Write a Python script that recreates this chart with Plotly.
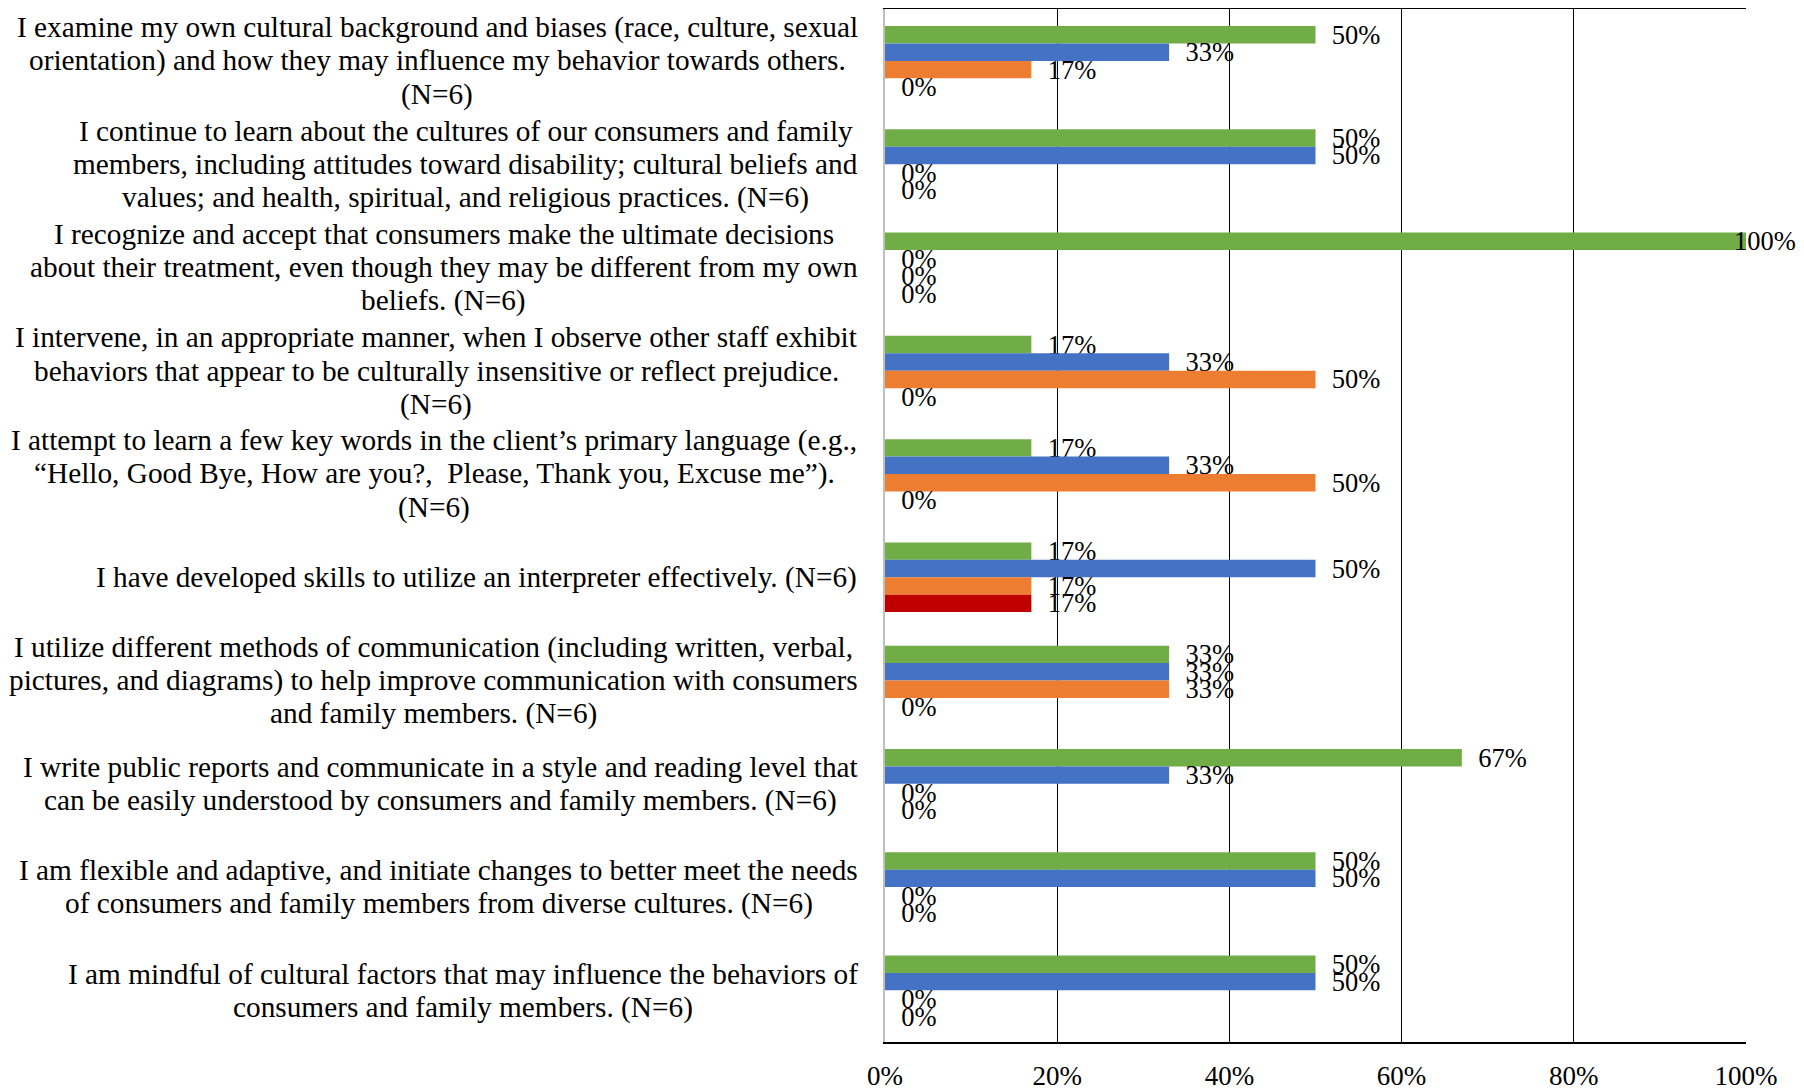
import plotly.graph_objects as go

# ---------------- data ----------------
categories = [
    "I examine my own cultural background and biases (race, culture, sexual<br>orientation) and how they may influence my behavior towards others.<br>(N=6)",
    "I continue to learn about the cultures of our consumers and family<br>members, including attitudes toward disability; cultural beliefs and<br>values; and health, spiritual, and religious practices. (N=6)",
    "I recognize and accept that consumers make the ultimate decisions<br>about their treatment, even though they may be different from my own<br>beliefs. (N=6)",
    "I intervene, in an appropriate manner, when I observe other staff exhibit<br>behaviors that appear to be culturally insensitive or reflect prejudice.<br>(N=6)",
    "I attempt to learn a few key words in the client’s primary language (e.g.,<br>“Hello, Good Bye, How are you?,\u00a0 Please, Thank you, Excuse me”).<br>(N=6)",
    "I have developed skills to utilize an interpreter effectively. (N=6)",
    "I utilize different methods of communication (including written, verbal,<br>pictures, and diagrams) to help improve communication with consumers<br>and family members. (N=6)",
    "I write public reports and communicate in a style and reading level that<br>can be easily understood by consumers and family members. (N=6)",
    "I am flexible and adaptive, and initiate changes to better meet the needs<br>of consumers and family members from diverse cultures. (N=6)",
    "I am mindful of cultural factors that may influence the behaviors of<br>consumers and family members. (N=6)",
]

series_names = ["Series 1", "Series 2", "Series 3", "Series 4"]
green_vals = [50, 50, 100, 17, 17, 17, 33, 67, 50, 50]
blue_vals = [33, 50, 0, 33, 33, 50, 33, 33, 50, 50]
orange_vals = [17, 0, 0, 50, 50, 17, 33, 0, 0, 0]
red_vals = [0, 0, 0, 0, 0, 17, 0, 0, 0, 0]

tick_vals = [0, 20, 40, 60, 80, 100]
tick_labels = ["0%", "20%", "40%", "60%", "80%", "100%"]

# ---------------- style ----------------
FONT = "Liberation Serif, Times New Roman, serif"
FS = 26.5        # data labels
FS_TICK = 27     # tick labels
FS_CAT = 29.3    # category labels
LINE_H = 33.4    # category label line spacing (px)
LABEL_GAP = 27   # gap between category label block and axis (px)
colors = ["#70AD47", "#4472C4", "#ED7D31", "#C00000"]
W, H = 1796, 1084
M_L, M_R, M_T, M_B = 877, 58, 1, 50
BARGAP = 0.325

# Times / Liberation Serif advance widths (1/1000 em) used to centre label lines
_TW = {' ': 250, '\u00a0': 250, '!': 333, '(': 333, ')': 333, ',': 250, '-': 333, '.': 250,
       ':': 278, ';': 278, '=': 564, '?': 444, '%': 833, '’': 333, '“': 444, '”': 444,
       'A': 722, 'B': 667, 'C': 667, 'D': 722, 'E': 611, 'F': 556, 'G': 722, 'H': 722,
       'I': 333, 'J': 389, 'K': 722, 'L': 611, 'M': 889, 'N': 722, 'O': 722, 'P': 556,
       'Q': 722, 'R': 667, 'S': 556, 'T': 611, 'U': 722, 'V': 722, 'W': 944, 'X': 722,
       'Y': 722, 'Z': 611, 'a': 444, 'b': 500, 'c': 444, 'd': 500, 'e': 444, 'f': 333,
       'g': 500, 'h': 500, 'i': 278, 'j': 278, 'k': 500, 'l': 278, 'm': 778, 'n': 500,
       'o': 500, 'p': 500, 'q': 500, 'r': 333, 's': 389, 't': 278, 'u': 500, 'v': 500,
       'w': 722, 'x': 500, 'y': 500, 'z': 444}


def text_width(s, size):
    return sum(_TW.get(ch, 500) for ch in s) * size / 1000.0


all_vals = [green_vals, blue_vals, orange_vals, red_vals]

fig = go.Figure()
annotations = []
plot_h = H - M_T - M_B
band = plot_h / len(categories)
bar_w = band * (1 - BARGAP) / len(all_vals)

for i, (name, vals, col) in enumerate(zip(series_names, all_vals, colors)):
    overflow = [v >= 95 for v in vals]
    fig.add_trace(go.Bar(
        name=name,
        y=categories,
        x=vals,
        orientation="h",
        marker=dict(color=col, line=dict(width=0)),
        text=["" if o else f"\u00a0\u00a0{v}%" for v, o in zip(vals, overflow)],
        textposition=["none" if o else "outside" for o in overflow],
        textfont=dict(family=FONT, size=FS, color="black"),
        constraintext="none",
        cliponaxis=False,
        showlegend=False,
        hoverinfo="skip",
    ))
    # labels that would overflow the chart are pulled back inside (as Excel does)
    offset = (i - (len(all_vals) - 1) / 2) * bar_w
    for cat, v, o in zip(categories, vals, overflow):
        if o:
            annotations.append(dict(
                x=v, y=cat, xref="x", yref="y", text=f"{v}%",
                xanchor="left", yanchor="middle", xshift=-14, yshift=-offset,
                showarrow=False, font=dict(family=FONT, size=FS, color="black"),
            ))

# category labels: each line centred within its block, block right-aligned to the axis
for cat in categories:
    lines = cat.split("<br>")
    block_w = max(text_width(s, FS_CAT) for s in lines)
    n = len(lines)
    for k, s in enumerate(lines):
        annotations.append(dict(
            x=0, y=cat, xref="paper", yref="y", text=s,
            xanchor="center", yanchor="middle",
            xshift=-(LABEL_GAP + block_w / 2),
            yshift=-(k - (n - 1) / 2) * LINE_H,
            showarrow=False, font=dict(family=FONT, size=FS_CAT, color="black"),
        ))

fig.update_layout(
    width=W, height=H,
    margin=dict(l=M_L, r=M_R, t=M_T, b=M_B, pad=0, autoexpand=False),
    barmode="group",
    bargap=BARGAP,
    bargroupgap=0,
    plot_bgcolor="white",
    paper_bgcolor="white",
    font=dict(family=FONT, size=FS, color="black"),
    annotations=annotations,
    xaxis=dict(
        range=[0, 100],
        tickvals=tick_vals,
        ticktext=tick_labels,
        showgrid=True, gridcolor="black", gridwidth=1.3,
        zeroline=False,
        showline=True, linecolor="black", linewidth=1.5, mirror=True,
        ticks="", ticklabelstandoff=9,
        tickfont=dict(family=FONT, size=FS_TICK, color="black"),
        fixedrange=True,
    ),
    yaxis=dict(
        autorange="reversed",
        showticklabels=False,
        showline=True, linecolor="#BFBFBF", linewidth=2,
        showgrid=False, zeroline=False, ticks="",
        fixedrange=True,
    ),
)

fig.write_html("out.html")
